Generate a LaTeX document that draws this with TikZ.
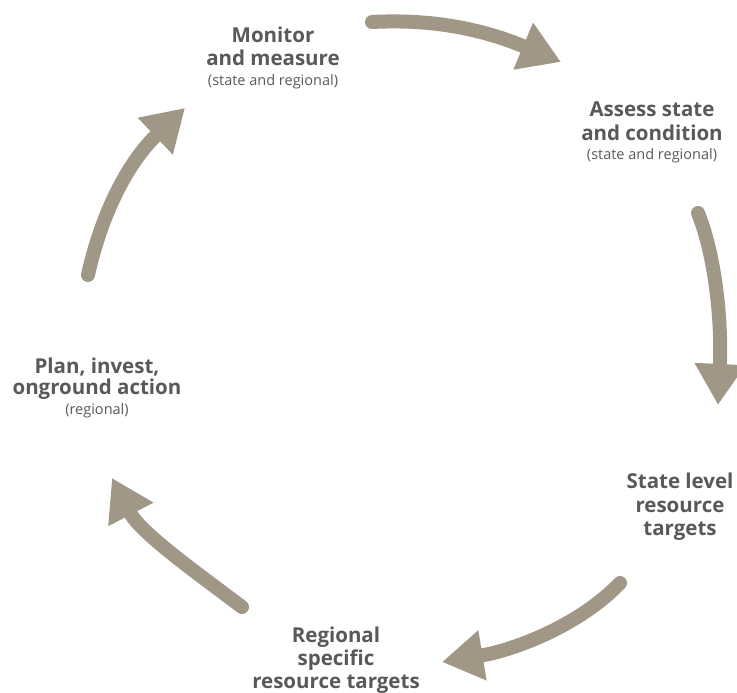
\documentclass[tikz,border=0pt]{standalone}
\usepackage{fontspec}
\setmainfont{Open Sans}
\usetikzlibrary{arrows.meta}
\definecolor{arrowgrey}{HTML}{A09787}
\definecolor{textgrey}{HTML}{58595B}
\begin{document}
\begin{tikzpicture}[x=1pt,y=-1pt,
  title/.style={font=\fontsize{20.5}{23}\selectfont\bfseries, text=textgrey, inner sep=0pt, anchor=base},
  sub/.style={font=\fontsize{14.5}{16}\selectfont, text=textgrey, inner sep=0pt, anchor=base},
  cyc/.style={draw=arrowgrey, line width=14pt, line cap=round, -{Triangle[length=41pt,width=48pt]}}]
\useasboundingbox (0,0) rectangle (737,693);
% labels
\node[title] (m1) at (273,43) {Monitor};
\node[title] (m2) at (273,66) {and measure};
\node[sub]   (m3) at (273,85) {(state and regional)};
\node[title] (a1) at (652,117) {Assess state};
\node[title] (a2) at (652,140) {and condition};
\node[sub]   (a3) at (652,159) {(state and regional)};
\node[title] (p1) at (97,373) {Plan, invest,};
\node[title] (p2) at (97,394) {onground action};
\node[sub]   (p3) at (97,414) {(regional)};
\node[title] (s1) at (680,488) {State level};
\node[title] (s2) at (680,512) {resource};
\node[title] (s3) at (680,535) {targets};
\node[title] (r1) at (336,642) {Regional};
\node[title] (r2) at (336,665) {specific};
\node[title] (r3) at (336,688) {resource targets};
% arrow end points
\coordinate (s1a) at (372,22);  \coordinate (t1a) at (561,62);
\coordinate (s2a) at (698,213); \coordinate (t2a) at (718,405);
\coordinate (s3a) at (620,583); \coordinate (t3a) at (442,662);
\coordinate (s4a) at (242,607); \coordinate (t4a) at (112,478);
\coordinate (s5a) at (88,275);  \coordinate (t5a) at (185,108);
% arrows
\draw[cyc] (s1a) .. controls (430,19) and (480,28) .. (t1a);
\draw[cyc] (s2a) .. controls (715,255) and (722,320) .. (t2a);
\draw[cyc] (s3a) .. controls (580,625) and (515,650) .. (t3a);
\draw[cyc] (s4a) .. controls (190,568) and (140,532) .. (t4a);
\draw[cyc] (s5a) .. controls (100,220) and (125,165) .. (t5a);
\end{tikzpicture}
\end{document}
